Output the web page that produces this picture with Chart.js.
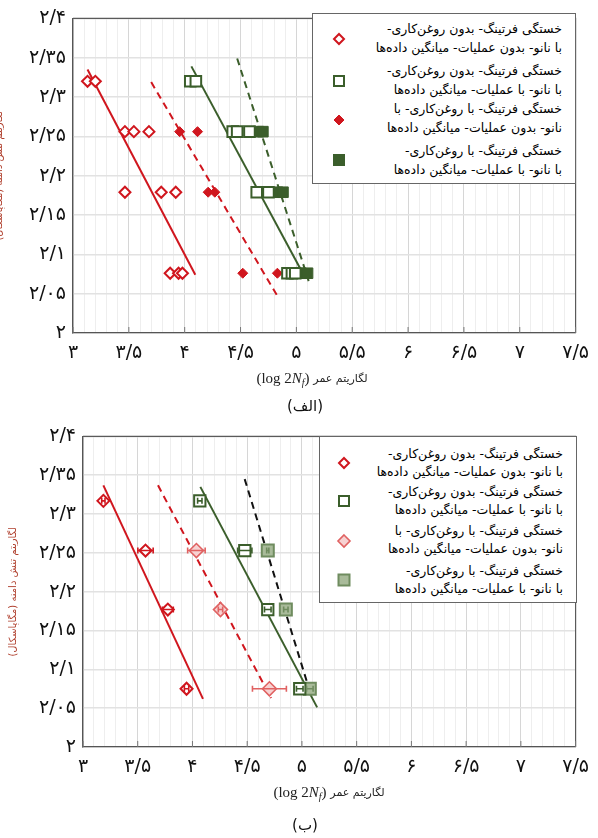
<!DOCTYPE html>
<html>
<head>
<meta charset="utf-8">
<script src="https://cdn.jsdelivr.net/npm/chart.js@4.4.1/dist/chart.umd.min.js"></script>
<style>
  body { margin: 0; width: 598px; height: 838px; background: #fff; position: relative; overflow: hidden; font-family: 'DejaVu Sans', sans-serif; }
  canvas { position: absolute; left: 0; }
  #chartA { top: 0; }
  #chartB { top: 418px; }
  .cap { position: absolute; left: 0; width: 610px; text-align: center; font-size: 15px; color: #111; }
  .legend { position: absolute; border: 1.3px solid #666; background: #fff; box-sizing: border-box; }
  .entry { position: absolute; right: 13px; direction: rtl; text-align: right; font-size: 12.5px; color: #000; white-space: nowrap; }
  .mark { position: absolute; }
</style>
</head>
<body>
<canvas id="chartA" width="598" height="400"></canvas>
<canvas id="chartB" width="598" height="400"></canvas>
<div class="cap" style="top:397px">(الف)</div>
<div class="cap" style="top:816px">(ب)</div>
<div id="legA" class="legend" style="left:312px;top:13px;width:264px;height:171px"></div>
<div id="legB" class="legend" style="left:319px;top:436px;width:258px;height:167px"></div>
<script>
// tick labels (Persian digits)
const xTickLabels = ['۳', '۳/۵', '۴', '۴/۵', '۵', '۵/۵', '۶', '۶/۵', '۷', '۷/۵'];
const yTickLabels = ['۲', '۲/۰۵', '۲/۱', '۲/۱۵', '۲/۲', '۲/۲۵', '۲/۳', '۲/۳۵', '۲/۴'];
const yTitle = 'لگاریتم تنش دامنه (مگاپاسکال)';
const xTitleLatin = ['(log 2', 'N', 'f', ')'];
const xTitlePersian = 'لگاریتم عمر';

const legendText = [
  ['خستگی فرتینگ- بدون روغن‌کاری-', 'با نانو- بدون عملیات- میانگین داده‌ها'],
  ['خستگی فرتینگ- بدون روغن‌کاری-', 'با نانو- با عملیات- میانگین داده‌ها'],
  ['خستگی فرتینگ- با روغن‌کاری- با', 'نانو- بدون عملیات- میانگین داده‌ها'],
  ['خستگی فرتینگ- با روغن‌کاری-', 'با نانو- با عملیات- میانگین داده‌ها']
];

// chart (الف) - individual tests
const a1X = [3.13, 3.20, 3.465, 3.545, 3.68, 3.465, 3.79, 3.92, 3.87, 3.945, 3.98];
const a1Y = [2.32, 2.32, 2.256, 2.256, 2.256, 2.179, 2.179, 2.179, 2.076, 2.076, 2.076];
const a2X = [4.05, 4.10, 4.43, 4.47, 4.58, 4.645, 4.75, 4.92, 4.96, 4.99];
const a2Y = [2.32, 2.32, 2.256, 2.256, 2.256, 2.179, 2.179, 2.076, 2.076, 2.076];
const a3X = [3.955, 4.115, 4.21, 4.27, 4.52, 4.83];
const a3Y = [2.256, 2.256, 2.179, 2.179, 2.076, 2.076];
const a4X = [4.66, 4.70, 4.83, 4.88, 5.04, 5.10];
const a4Y = [2.256, 2.256, 2.179, 2.179, 2.076, 2.076];
// fitted lines (الف)
const a1LineX = [3.13, 4.095], a1LineY = [2.335, 2.074];
const a3LineX = [3.70, 4.83], a3LineY = [2.319, 2.047];
const a2LineX = [4.06, 5.05], a2LineY = [2.339, 2.078];
const a4LineX = [4.47, 5.11], a4LineY = [2.349, 2.066];

// chart (ب) - averages with scatter
const b1X = [3.186, 3.571, 3.775, 3.946], b1Y = [2.317, 2.253, 2.177, 2.075], b1Err = [0.015, 0.07, 0.05, 0.02];
const b2X = [4.067, 4.478, 4.688, 4.98], b2Y = [2.317, 2.253, 2.177, 2.075], b2Err = [0.02, 0.065, 0.03, 0.03];
const b3X = [4.036, 4.256, 4.703], b3Y = [2.253, 2.177, 2.075], b3Err = [0.08, 0.02, 0.155];
const b4X = [4.688, 4.853, 5.072], b4Y = [2.253, 2.177, 2.075], b4Err = [0.01, 0.02, 0.03];
const b1LineX = [3.186, 4.096], b1LineY = [2.337, 2.062];
const b3LineX = [3.685, 4.718], b3LineY = [2.337, 2.063];
const b2LineX = [4.072, 5.139], b2LineY = [2.335, 2.051];
const b4LineX = [4.477, 5.067], b4LineY = [2.345, 2.074];

const RED = '#d0161e';
const GREEN = '#3b5e2b';
const LRED = '#e06262';
const LGREEN = '#a9bb9a';
const LGREEN_EDGE = '#6f8c5f';

function pts(xs, ys) {
  return xs.map((x, i) => ({ x: x, y: ys[i] }));
}

function marks(xs, ys, style, radius, border, fill, width, err) {
  return {
    data: pts(xs, ys),
    pointStyle: style,
    pointRadius: radius,
    pointHoverRadius: radius,
    pointBorderColor: border,
    pointBackgroundColor: fill,
    pointBorderWidth: width,
    showLine: false,
    xErr: err,
    order: 1
  };
}

function line(xs, ys, color, dashed) {
  return {
    data: pts(xs, ys),
    showLine: true,
    borderColor: color,
    borderWidth: 2,
    borderDash: dashed ? [7, 5] : [],
    pointRadius: 0,
    order: 2
  };
}

const framePlugin = {
  id: 'frame',
  beforeDatasetsDraw(chart) {
    const { ctx, chartArea: a, scales: { x } } = chart;
    ctx.save();
    ctx.strokeStyle = '#5a5a5a';
    ctx.lineWidth = 1.2;
    ctx.beginPath();
    ctx.moveTo(a.left, a.top);
    ctx.lineTo(a.right, a.top);
    ctx.lineTo(a.right, a.bottom);
    ctx.stroke();
    ctx.strokeStyle = '#777';
    ctx.lineWidth = 1;
    for (let i = 0; i < xTickLabels.length; i++) {
      const px = x.getPixelForValue(3 + i * 0.5);
      ctx.beginPath();
      ctx.moveTo(px, a.bottom);
      ctx.lineTo(px, a.bottom - 6);
      ctx.stroke();
    }
    ctx.restore();
  },
  afterDatasetsDraw(chart) {
    const { ctx, scales: { x, y } } = chart;
    ctx.save();
    chart.data.datasets.forEach(ds => {
      if (!ds.xErr) return;
      ctx.strokeStyle = ds.pointBorderColor;
      ctx.lineWidth = 1.6;
      ds.data.forEach((p, i) => {
        const e = ds.xErr[i];
        const x0 = x.getPixelForValue(p.x - e), x1 = x.getPixelForValue(p.x + e);
        const py = y.getPixelForValue(p.y);
        ctx.beginPath();
        ctx.moveTo(x0, py); ctx.lineTo(x1, py);
        ctx.moveTo(x0, py - 3); ctx.lineTo(x0, py + 3);
        ctx.moveTo(x1, py - 3); ctx.lineTo(x1, py + 3);
        ctx.stroke();
      });
    });
    ctx.restore();
  },
  afterDraw(chart, args, opts) {
    const ctx = chart.ctx;
    const parts = [
      { t: xTitleLatin[0], f: '15px "Liberation Serif"', dy: 0 },
      { t: xTitleLatin[1], f: 'italic 15px "Liberation Serif"', dy: 0 },
      { t: xTitleLatin[2], f: 'italic 10px "Liberation Serif"', dy: 4 },
      { t: xTitleLatin[3] + ' ', f: '15px "Liberation Serif"', dy: 0 },
      { t: xTitlePersian, f: '11px "DejaVu Sans"', dy: 0 }
    ];
    ctx.save();
    ctx.fillStyle = '#222';
    ctx.textBaseline = 'middle';
    ctx.textAlign = 'left';
    let total = 0;
    parts.forEach(p => { ctx.font = p.f; p.w = ctx.measureText(p.t).width; total += p.w; });
    let cx = opts.titleX - total / 2;
    parts.forEach(p => {
      ctx.font = p.f;
      ctx.fillText(p.t, cx, opts.titleY + p.dy);
      cx += p.w;
    });
    ctx.restore();
  }
};

function isMajor(v) {
  return Math.round(v * 10) % 5 === 0;
}

function makeChart(id, datasets, box) {
  return new Chart(document.getElementById(id), {
    type: 'scatter',
    data: { datasets: datasets },
    plugins: [framePlugin],
    options: {
      responsive: false,
      animation: false,
      events: [],
      layout: { padding: { left: 0, top: box.top, right: box.right, bottom: 0 } },
      plugins: {
        legend: { display: false },
        tooltip: { enabled: false },
        frame: { titleX: box.titleX, titleY: box.titleY }
      },
      scales: {
        x: {
          type: 'linear',
          min: 3,
          max: 7.5,
          afterFit: s => { s.height = box.xHeight; },
          afterBuildTicks: s => {
            const t = [];
            for (let i = 30; i <= 75; i++) t.push({ value: i / 10 });
            s.ticks = t;
          },
          border: { display: true, color: '#555', width: 1.3 },
          grid: {
            drawTicks: false,
            color: c => isMajor(c.tick.value) ? '#d6d6d6' : '#eeeeee',
            lineWidth: 1
          },
          ticks: {
            autoSkip: false,
            maxRotation: 0,
            padding: 9,
            color: '#111',
            font: { family: 'DejaVu Sans', size: 19 },
            callback: v => isMajor(v) ? xTickLabels[Math.round((v - 3) * 2)] : ''
          }
        },
        y: {
          type: 'linear',
          min: 2,
          max: 2.4,
          afterFit: s => { s.width = box.yWidth; },
          border: { display: true, color: '#555', width: 1.3 },
          grid: { drawTicks: false, color: '#e2e2e2', lineWidth: 1.5 },
          ticks: {
            stepSize: 0.05,
            padding: 7,
            color: '#111',
            font: { family: 'DejaVu Sans', size: 19 },
            callback: v => yTickLabels[Math.round((v - 2) / 0.05)]
          },
          title: {
            display: true,
            text: yTitle,
            color: '#b0402e',
            font: { family: 'DejaVu Sans', size: 10 },
            padding: { top: box.yTitlePad, bottom: 0 }
          }
        }
      }
    }
  });
}

makeChart('chartA', [
  marks(a1X, a1Y, 'rectRot', 5.5, RED, '#fff', 2),
  marks(a2X, a2Y, 'rect', 7.5, GREEN, '#fff', 2),
  marks(a3X, a3Y, 'rectRot', 5, RED, RED, 1),
  marks(a4X, a4Y, 'rect', 7.5, GREEN, GREEN, 1),
  line(a1LineX, a1LineY, RED, false),
  line(a3LineX, a3LineY, RED, true),
  line(a2LineX, a2LineY, GREEN, false),
  line(a4LineX, a4LineY, GREEN, true)
], { top: 11, right: 18, yWidth: 73, xHeight: 67, titleX: 312, titleY: 379, yTitlePad: -7 });

makeChart('chartB', [
  marks(b1X, b1Y, 'rectRot', 6, RED, '#fff', 2, b1Err),
  marks(b2X, b2Y, 'rect', 8, GREEN, '#fff', 2, b2Err),
  marks(b3X, b3Y, 'rectRot', 7, LRED, '#f7d2d2', 1.6, b3Err),
  marks(b4X, b4Y, 'rect', 8.5, LGREEN_EDGE, LGREEN, 2, b4Err),
  line(b1LineX, b1LineY, RED, false),
  line(b3LineX, b3LineY, RED, true),
  line(b2LineX, b2LineY, GREEN, false),
  line(b4LineX, b4LineY, '#111', true)
], { top: 13, right: 15, yWidth: 83, xHeight: 71, titleX: 329, titleY: 375, yTitlePad: 7 });

// legends
const diamond = (r, stroke, fill, w) =>
  `<svg width="18" height="18"><polygon points="9,${9 - r} ${9 + r},9 9,${9 + r} ${9 - r},9" fill="${fill}" stroke="${stroke}" stroke-width="${w}"/></svg>`;
const square = (s, stroke, fill, w) =>
  `<svg width="18" height="18"><rect x="${9 - s / 2}" y="${9 - s / 2}" width="${s}" height="${s}" fill="${fill}" stroke="${stroke}" stroke-width="${w}"/></svg>`;

const markersA = [
  diamond(5, RED, '#fff', 2),
  square(10, GREEN, '#fff', 2),
  diamond(5, RED, RED, 1),
  square(11, GREEN, GREEN, 1)
];
const markersB = [
  diamond(5, RED, '#fff', 2),
  square(10, GREEN, '#fff', 2),
  diamond(6, LRED, '#f7d2d2', 1.6),
  square(11, LGREEN_EDGE, LGREEN, 2)
];

function buildLegend(id, markers, entryTop, markTop, markLeft, lineH) {
  const el = document.getElementById(id);
  legendText.forEach((lines, i) => {
    const e = document.createElement('div');
    e.className = 'entry';
    e.style.top = entryTop[i] + 'px';
    e.style.lineHeight = lineH + 'px';
    e.innerHTML = lines.join('<br>');
    el.appendChild(e);
    const m = document.createElement('div');
    m.className = 'mark';
    m.style.left = (markLeft - 9) + 'px';
    m.style.top = (markTop[i] - 9) + 'px';
    m.innerHTML = markers[i];
    el.appendChild(m);
  });
}

buildLegend('legA', markersA, [5, 47, 85, 127], [25, 67, 106, 146], 26, 19);
buildLegend('legB', markersB, [8, 46, 85, 125], [26, 64, 104, 143], 24, 18);
</script>
</body>
</html>
